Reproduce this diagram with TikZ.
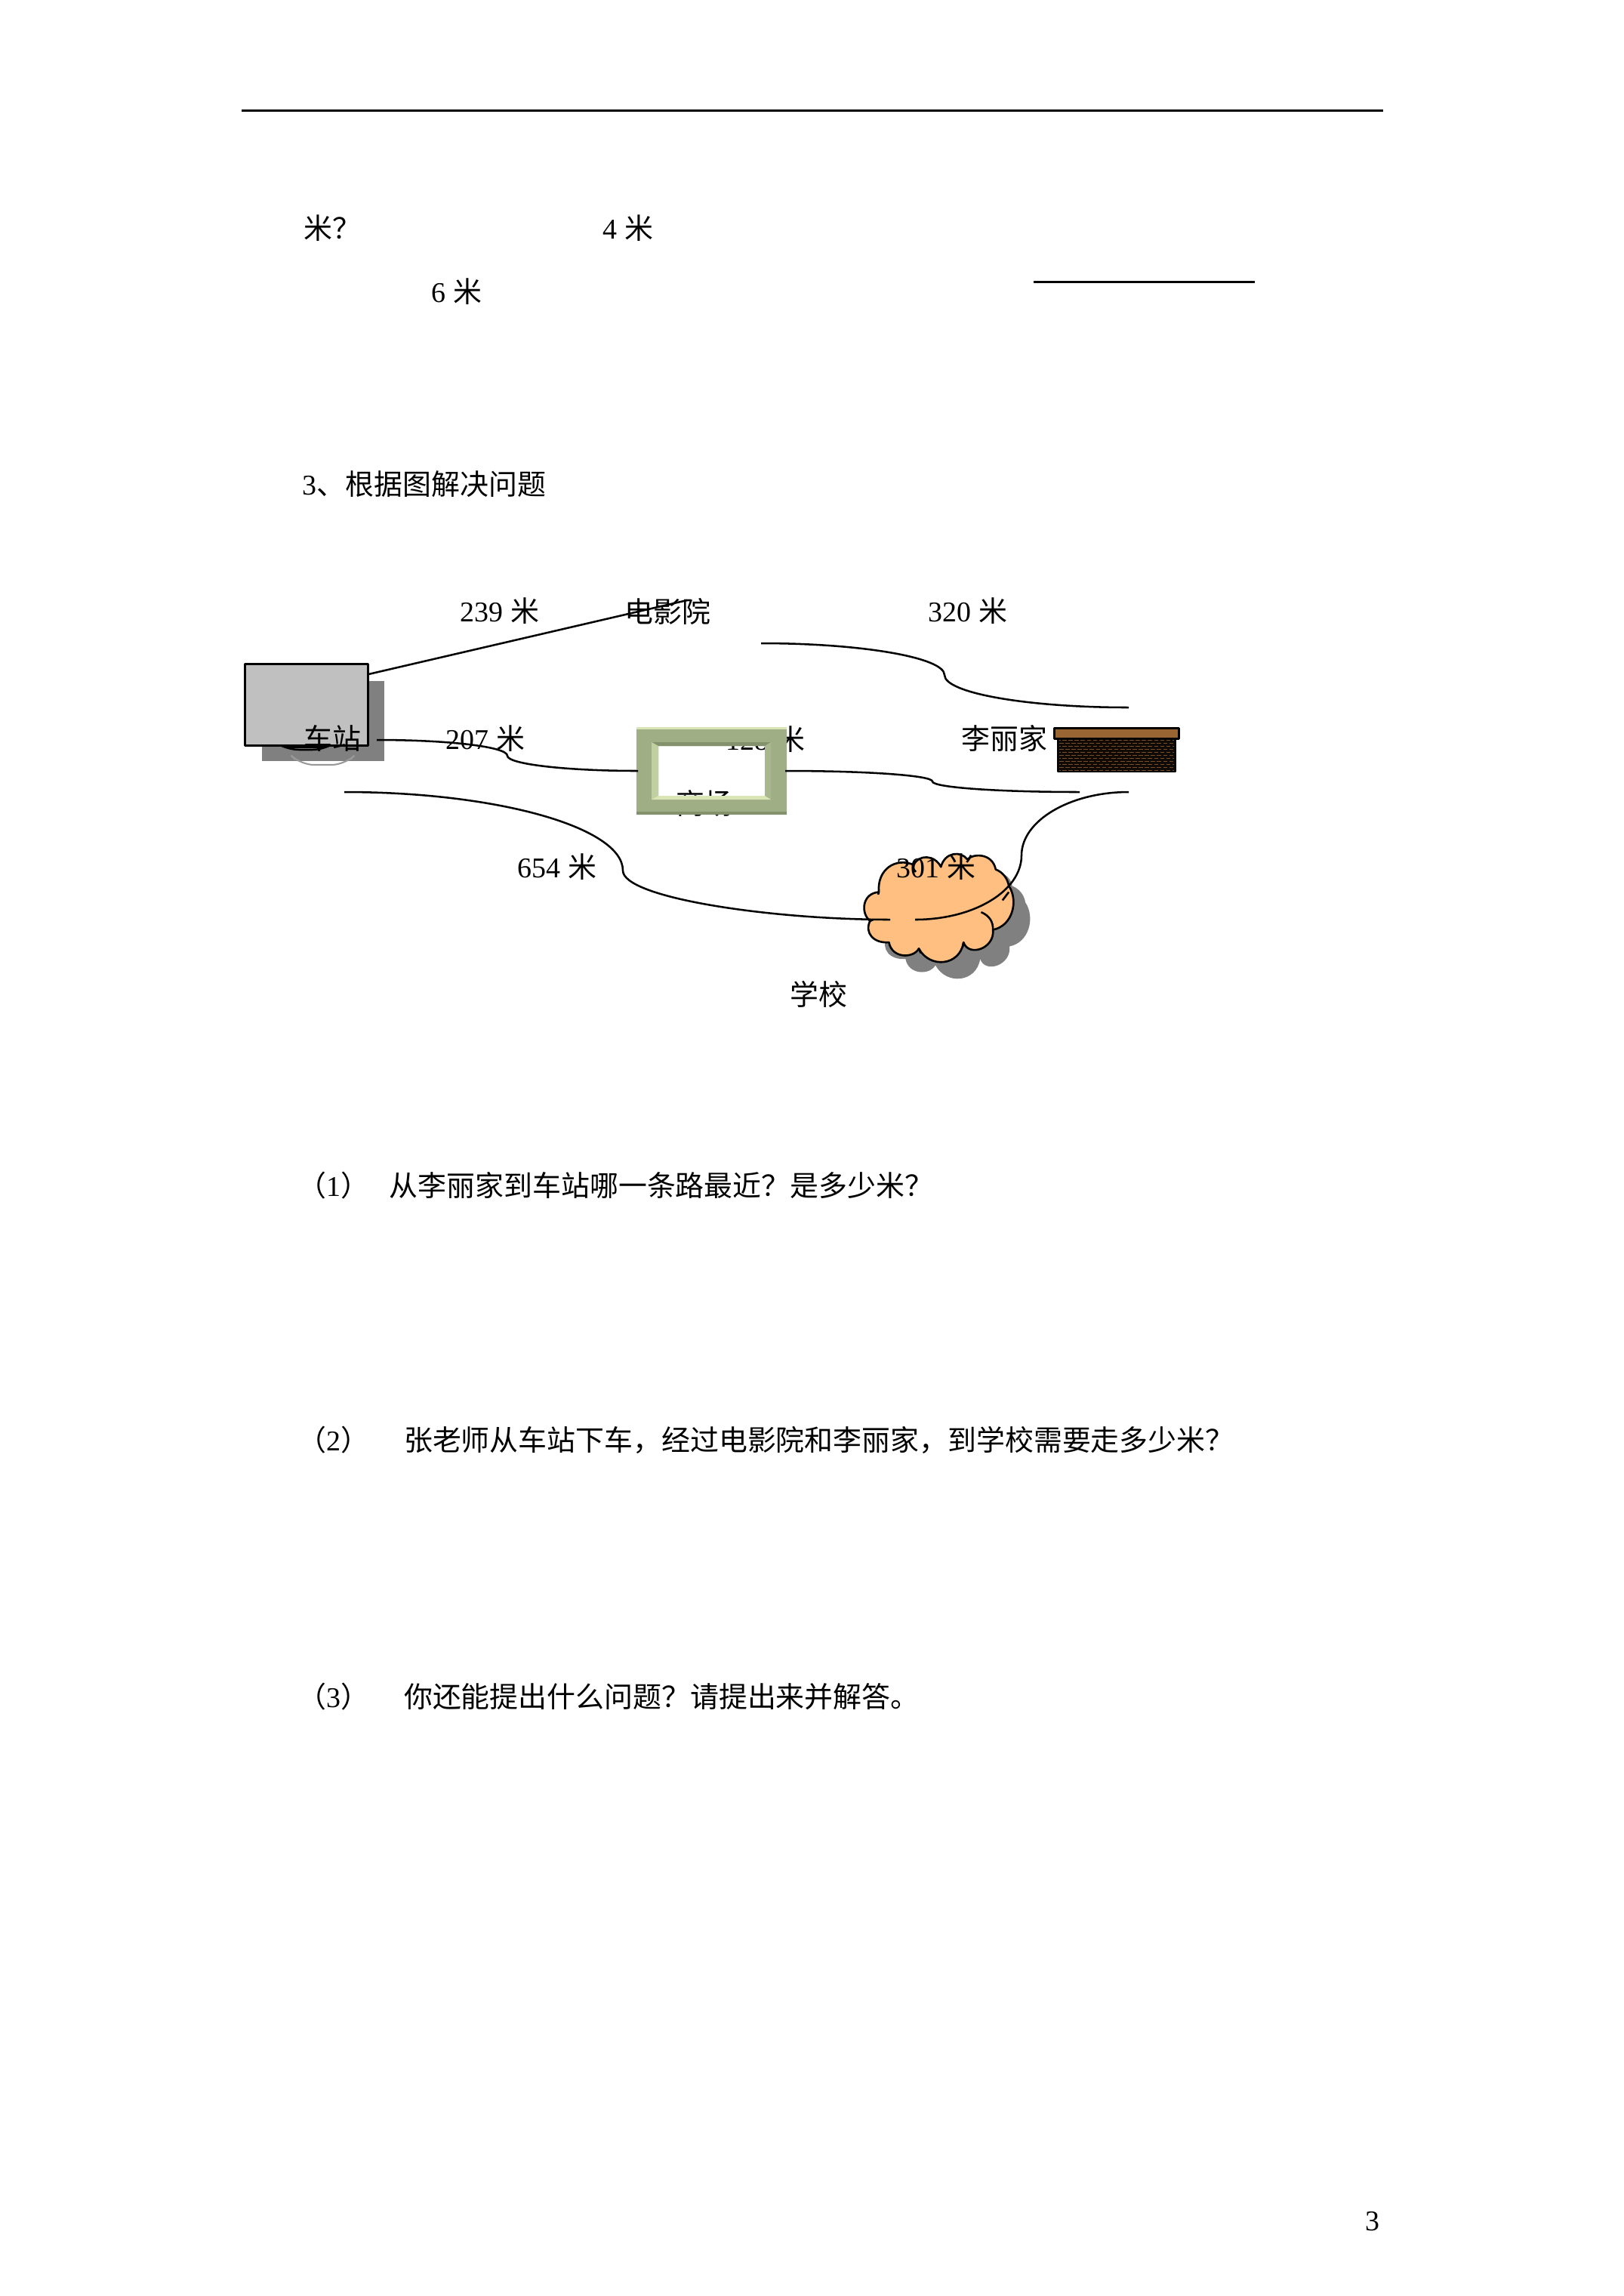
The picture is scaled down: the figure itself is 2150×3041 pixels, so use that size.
\documentclass[tikz,border=0pt]{standalone}
\usepackage{fontspec}
\setmainfont{Liberation Serif}
\newfontfamily\cjk{Noto Sans CJK SC}
\definecolor{shadowgray}{HTML}{808080}
\definecolor{boxgray}{HTML}{C0C0C0}
\definecolor{cloudfill}{HTML}{FFBF80}
\definecolor{frameA}{HTML}{A0AE85}
\definecolor{frameLight}{HTML}{D9E5B5}
\definecolor{frameLeft}{HTML}{C0D0A0}
\definecolor{frameDark}{HTML}{84916D}
\definecolor{frameRight}{HTML}{A9B78F}
\definecolor{roofbrown}{HTML}{996633}
\definecolor{brickbrown}{HTML}{7A4E22}
\definecolor{walldark}{HTML}{0F0A05}
\tikzset{
  txt/.style={anchor=west,inner sep=0pt,text height=9.5pt,text depth=1.3pt,font=\fontsize{10.78}{13}\selectfont},
  road/.style={draw=black,line width=0.72pt},
  rule/.style={draw=black,line width=0.85pt},
  outline/.style={draw=black,line width=0.85pt,line join=round},
  cloudline/.style={draw=black,line width=0.75pt}
}
\newcommand{\cloudshape}{(493,305) .. controls (485,215) and (560,165) .. (632,197)
  .. controls (650,155) and (715,155) .. (740,205)
  .. controls (755,145) and (820,140) .. (845,175)
  .. controls (870,150) and (945,150) .. (958,215)
  .. controls (985,225) and (1005,250) .. (1010,280)
  .. controls (1050,340) and (1025,440) .. (947,455)
  .. controls (955,530) and (850,565) .. (830,505)
  .. controls (815,600) and (695,610) .. (652,530)
  .. controls (630,570) and (545,570) .. (533,505)
  .. controls (470,510) and (435,465) .. (458,420)
  .. controls (420,390) and (425,310) .. (493,305) -- cycle}
\begin{document}
\begin{tikzpicture}[x=0.01cm,y=-0.01cm]
\useasboundingbox (0,0) rectangle (2150,3041);
% top rules
\coordinate (r1a) at (320,146); \coordinate (r1b) at (1832,146);
\draw[rule] (r1a) -- (r1b);
\coordinate (r2a) at (1369,373); \coordinate (r2b) at (1662,373);
\draw[rule] (r2a) -- (r2b);
% upper texts
\node[txt] (t1) at (402,302) {{\cjk 米？}};
\node[txt] (t2) at (798,302) {4 {\cjk 米}};
\node[txt] (t3) at (571,386) {6 {\cjk 米}};
\node[txt] (t4) at (400,641) {3{\cjk 、根据图解决问题}};
% station picture
\fill[shadowgray] (347,902) rectangle (509,1008);
\draw[color=shadowgray!80!white,line width=0.6pt,rounded corners=5] (391,1006) -- (398,1013) -- (457,1013) -- (464,1006);
\draw[black,line width=0.7pt,rounded corners=5] (368,986) -- (378,993) -- (432,993) -- (441,986);
\draw[black,line width=0.7pt] (378,990) -- (432,990);
\node[outline,fill=boxgray,minimum width=1.635cm,minimum height=1.07cm,inner sep=0pt] (station) at (406,933.5) {};
% labels beneath the frame
\node[txt] (t128) at (961,979) {128 {\cjk 米}};
\node[txt] (tmall) at (895,1064) {{\cjk 商场}};
% frame
\fill[frameA,even odd rule] (843,963) rectangle (1042,1079) (872,988) rectangle (1013,1054);
\fill[frameLight] (843,963) rectangle (1042,966);
\fill[frameDark] (843,1075) rectangle (1042,1079);
\fill[frameDark] (863,983) -- (1021,983) -- (1013,988) -- (872,988) -- cycle;
\fill[frameLeft] (863,983) -- (872,988) -- (872,1054) -- (863,1059) -- cycle;
\fill[frameRight] (1021,983) -- (1013,988) -- (1013,1054) -- (1021,1059) -- cycle;
\fill[frameLight] (863,1059) -- (872,1054) -- (1013,1054) -- (1021,1059) -- cycle;
% house
\fill[walldark] (1401,978) rectangle (1557,1022);
\foreach \yy [count=\ii] in {980,984,988,992,996,1000,1004,1008,1012,1016,1020}{
  \pgfmathsetmacro{\off}{mod(\ii,2)*1.1}
  \draw[brickbrown,line width=0.26pt,dash pattern=on 1.6pt off 0.7pt,dash phase=\off pt] (1403,\yy) -- (1555,\yy);
}
\draw[outline,line width=0.6pt] (1401,978) rectangle (1557,1022);
\node[outline,fill=roofbrown,minimum width=1.64cm,minimum height=0.14cm,inner sep=0pt] (roof) at (1479,971) {};
% shadow and cloud
\begin{scope}[shift={(1022,1102)},x=0.00333cm,y=-0.00333cm]
\fill[shadowgray] \cloudshape;
\end{scope}
\begin{scope}[shift={(1000,1080)},x=0.00333cm,y=-0.00333cm]
\filldraw[fill=cloudfill,cloudline,line join=round] \cloudshape;
\draw[cloudline] (640,225) .. controls (630,215) and (628,205) .. (632,197);
\draw[cloudline] (985,338) -- (1010,305);
\draw[cloudline] (900,385) .. controls (935,400) and (948,425) .. (947,455);
\draw[cloudline] (830,505) -- (826,525);
\draw[cloudline] (652,530) -- (660,548);
\draw[cloudline] (533,505) -- (515,505);
\draw[cloudline] (493,305) -- (490,315);
\draw[cloudline] (458,420) -- (470,415);
\end{scope}
% connector end points
\coordinate (l1a) at (488,893); \coordinate (l1b) at (910,795);
\coordinate (c1a) at (1008,852); \coordinate (c1e) at (1495,937);
\coordinate (c2a) at (499,980);  \coordinate (c2e) at (845,1021);
\coordinate (c3a) at (456,1049); \coordinate (c3e) at (1179,1218);
\coordinate (c4a) at (1040,1021);\coordinate (c4e) at (1430,1049);
\coordinate (c5a) at (1495,1049);\coordinate (c5e) at (1212,1218);
\draw[road] (l1a) -- (l1b);
\draw[road] (c1a) .. controls (1142,852) and (1251,871) .. (1251,894) .. controls (1251,918) and (1361,937) .. (c1e);
\draw[road] (c2a) .. controls (594,980) and (672,989) .. (672,1001) .. controls (672,1012) and (750,1021) .. (c2e);
\draw[road] (c3a) .. controls (659,1049) and (825,1096) .. (825,1153) .. controls (825,1189) and (1020,1218) .. (c3e);
\draw[road] (c4a) .. controls (1147,1021) and (1235,1027) .. (1235,1035) .. controls (1235,1043) and (1323,1049) .. (c4e);
\draw[road] (c5a) .. controls (1417,1049) and (1353,1087) .. (1353,1133) .. controls (1353,1180) and (1290,1218) .. (c5e);
% diagram labels
\node[txt] (d239) at (609,809) {239 {\cjk 米}};
\node[txt] (dcin) at (827,810) {{\cjk 电影院}};
\node[txt] (d320) at (1229,809) {320 {\cjk 米}};
\node[txt] (dsta) at (402,978) {{\cjk 车站}};
\node[txt] (d207) at (590,978) {207 {\cjk 米}};
\node[txt] (dhome) at (1273,978) {{\cjk 李丽家}};
\node[txt] (d654) at (685,1148) {654 {\cjk 米}};
\node[txt] (d301) at (1187,1148) {301 {\cjk 米}};
\node[txt] (dsch) at (1046,1317) {{\cjk 学校}};
% questions
\node[txt] (q1) at (394,1570) {{\cjk （}1{\cjk ）}\hspace{7.5pt}{\cjk 从李丽家到车站哪一条路最近？是多少米？}};
\node[txt] (q2) at (394,1907) {{\cjk （}2{\cjk ）}\hspace{13pt}{\cjk 张老师从车站下车，经过电影院和李丽家，到学校需要走多少米？}};
\node[txt] (q3) at (394,2247) {{\cjk （}3{\cjk ）}\hspace{13pt}{\cjk 你还能提出什么问题？请提出来并解答。}};
\node[txt] (pg) at (1808,2940) {3};
\end{tikzpicture}
\end{document}
